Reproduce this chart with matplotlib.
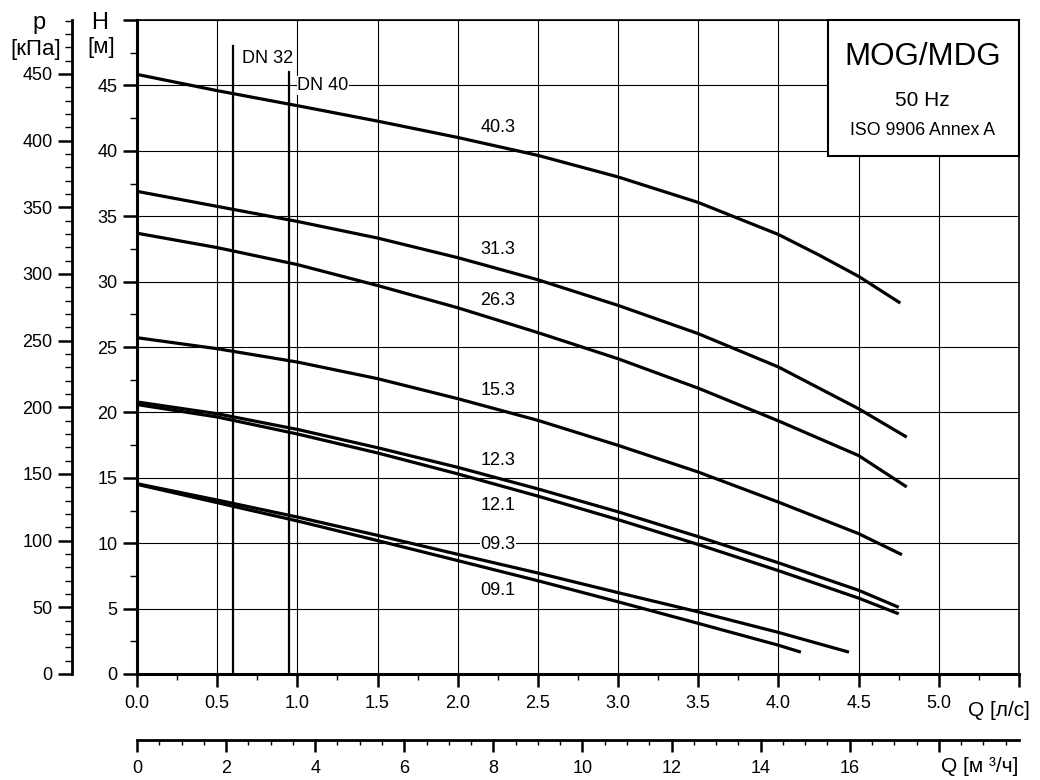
import matplotlib
matplotlib.use('Agg')
import matplotlib.pyplot as plt
from matplotlib.patches import Rectangle
from matplotlib.ticker import MultipleLocator, FuncFormatter

plt.rcParams['font.family'] = ['Liberation Sans', 'DejaVu Sans']
plt.rc('font', size=13)

# pump curves, Q in l/s, H in m
q_full = [0.0, 0.5, 1.0, 1.5, 2.0, 2.5, 3.0, 3.5, 4.0, 4.5]

q_403 = q_full[:9] + [4.25, 4.5, 4.76]
h_403 = [45.84, 44.6, 43.45, 42.27, 41.02, 39.65, 38.0, 36.05, 33.6, 32.05, 30.4, 28.36]
q_313 = q_full + [4.80]
h_313 = [36.9, 35.75, 34.6, 33.33, 31.83, 30.14, 28.18, 26.02, 23.47, 20.28, 18.11]
q_263 = q_full + [4.80]
h_263 = [33.7, 32.6, 31.3, 29.7, 28.0, 26.1, 24.1, 21.85, 19.35, 16.7, 14.3]
q_153 = q_full + [4.77]
h_153 = [25.71, 24.87, 23.85, 22.58, 21.05, 19.39, 17.48, 15.44, 13.14, 10.73, 9.12]
q_123 = q_full + [4.75]
h_123 = [20.8, 19.9, 18.7, 17.3, 15.8, 14.15, 12.4, 10.5, 8.5, 6.4, 5.1]
q_121 = q_full + [4.75]
h_121 = [20.6, 19.65, 18.35, 16.9, 15.3, 13.6, 11.8, 9.9, 7.9, 5.8, 4.6]
q_093 = q_full[:9] + [4.44]
h_093 = [14.55, 13.3, 12.0, 10.6, 9.15, 7.72, 6.22, 4.75, 3.18, 1.67]
q_091 = q_full[:9] + [4.14]
h_091 = [14.5, 13.1, 11.7, 10.2, 8.67, 7.13, 5.52, 3.87, 2.2, 1.67]

labels = ['40.3', '31.3', '26.3', '15.3', '12.3', '12.1', '09.3', '09.1']
label_h = [41.81, 32.46, 28.56, 21.68, 16.33, 12.89, 9.91, 6.39]

# pipe connection limits
dn_names = ['DN 32', 'DN 40']
dn_q = [0.6, 0.95]
dn_top = [48, 46]

curves = [(q_403, h_403), (q_313, h_313), (q_263, h_263), (q_153, h_153),
          (q_123, h_123), (q_121, h_121), (q_093, h_093), (q_091, h_091)]

W, H = 1040, 780
fig = plt.figure(figsize=(W / 100, H / 100), dpi=100)
ax = fig.add_axes([137 / W, 106 / H, 882 / W, 654 / H])
ax.set_xlim(0, 5.5)
ax.set_ylim(0, 50)

ax.xaxis.set_major_locator(MultipleLocator(0.5))
ax.xaxis.set_minor_locator(MultipleLocator(0.25))
ax.yaxis.set_major_locator(MultipleLocator(5))
ax.yaxis.set_minor_locator(MultipleLocator(2.5))
ax.xaxis.set_major_formatter(FuncFormatter(lambda v, p: f'{v:.1f}' if v <= 5.01 else ''))
ax.yaxis.set_major_formatter(FuncFormatter(lambda v, p: f'{v:.0f}' if v <= 45.1 else ''))
ax.grid(which='major', color='black', lw=0.8)
ax.tick_params(axis='y', which='major', length=10, width=1.8, pad=4)
ax.tick_params(axis='y', which='minor', length=5, width=1)
ax.tick_params(axis='x', which='major', length=9.4, width=1.8, pad=6)
ax.tick_params(axis='x', which='minor', length=4.3, width=1)
for s in ['left', 'bottom']:
    ax.spines[s].set_linewidth(2.2)
for s in ['top', 'right']:
    ax.spines[s].set_linewidth(1.2)

for (q, h) in curves:
    ax.plot(q, h, color='black', lw=2.3, solid_capstyle='butt',
            solid_joinstyle='round', zorder=3)

for lab, hy in zip(labels, label_h):
    ax.text(2.25, hy, lab, ha='center', va='center', zorder=4,
            bbox=dict(facecolor='white', edgecolor='none', pad=0.5))

for name, q, top in zip(dn_names, dn_q, dn_top):
    ax.plot([q, q], [0, top], color='black', lw=1.6, zorder=3)
ax.text(0.654, 47.07, dn_names[0], ha='left', va='center', zorder=4,
        bbox=dict(facecolor='white', edgecolor='none', pad=0.5))
ax.text(1.0, 45.0, dn_names[1], ha='left', va='center', zorder=4,
        bbox=dict(facecolor='white', edgecolor='none', pad=0.5))

# title box
ax.add_patch(Rectangle((4.31, 39.57), 5.5 - 4.31, 50 - 39.57, facecolor='white',
                       edgecolor='black', lw=1.5, zorder=5, clip_on=False))
ax.text(4.90, 47.14, 'MOG/MDG', ha='center', va='center', fontsize=22.5, zorder=6)
ax.text(4.90, 43.85, '50 Hz', ha='center', va='center', fontsize=15, zorder=6)
ax.text(4.90, 41.56, 'ISO 9906 Annex A', ha='center', va='center', fontsize=12.8, zorder=6)

# pressure axis
ax_p = ax.twinx()
ax_p.set_ylim(0, 50 * 9.81)
ax_p.yaxis.tick_left()
for s in ['top', 'right', 'bottom']:
    ax_p.spines[s].set_visible(False)
ax_p.spines['left'].set_visible(True)
ax_p.spines['left'].set_position(('axes', -65 / 882))
ax_p.spines['left'].set_linewidth(2)
ax_p.yaxis.set_major_locator(MultipleLocator(50))
ax_p.yaxis.set_minor_locator(MultipleLocator(10))
ax_p.yaxis.set_major_formatter(FuncFormatter(lambda v, p: f'{v:.0f}' if v <= 450 else ''))
ax_p.tick_params(axis='y', which='major', length=10, width=1.8, pad=4)
ax_p.tick_params(axis='y', which='minor', length=5, width=1)

# m3/h axis
secax = ax.secondary_xaxis(-66 / 654, functions=(lambda q: q * 3.6, lambda m: m / 3.6))
secax.xaxis.set_major_locator(MultipleLocator(2))
secax.xaxis.set_minor_locator(MultipleLocator(0.5))
secax.xaxis.set_major_formatter(FuncFormatter(lambda v, p: f'{v:.0f}' if v <= 16.1 else ''))
secax.spines['bottom'].set_linewidth(2)
secax.tick_params(axis='x', which='major', length=8.6, width=1.8, pad=6)
secax.tick_params(axis='x', which='minor', length=3.6, width=1)

# axis captions
fig.text(39 / W, 1 - 29 / H, 'p', ha='center', va='baseline', fontsize=17)
fig.text(36 / W, 1 - 55 / H, '[кПа]', ha='center', va='baseline', fontsize=16)
fig.text(100 / W, 1 - 29 / H, 'H', ha='center', va='baseline', fontsize=17)
fig.text(101 / W, 1 - 53 / H, '[м]', ha='center', va='baseline', fontsize=16)
fig.text(968 / W, 1 - 716 / H, 'Q [л/с]', ha='left', va='baseline', fontsize=15)
fig.text(941 / W, 1 - 772 / H, 'Q [м ³/ч]', ha='left', va='baseline', fontsize=15)

fig.savefig('out.png', dpi=100, facecolor='white')
